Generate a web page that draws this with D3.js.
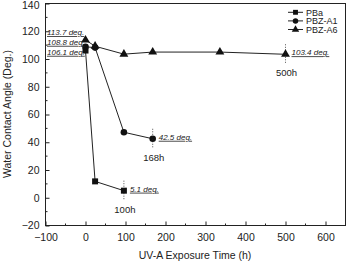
<!DOCTYPE html>
<html><head><meta charset="utf-8">
<script src="https://cdn.jsdelivr.net/npm/d3@7"></script>
<style>body{margin:0;background:#fff}svg{display:block;font-family:"Liberation Sans",Arial,sans-serif}</style>
</head><body><svg id="c" width="348" height="261"></svg>
<script>
const seriesNames = ["PBa", "PBZ-A1", "PBZ-A6"];
const pbaTime = [0, 24, 96];
const pbaAngle = [106.1, 11.8, 5.1];
const a1Time = [0, 24, 96, 168];
const a1Angle = [108.8, 108.2, 47.2, 42.5];
const a6Time = [0, 24, 96, 168, 336, 500];
const a6Angle = [113.7, 109.2, 103.5, 105.0, 105.0, 103.4];
const xTicks = [-100, 0, 100, 200, 300, 400, 500, 600];
const yTicks = [-20, 0, 20, 40, 60, 80, 100, 120, 140];
const startLabels = ["113.7 deg.", "108.8 deg.", "106.1 deg."];
const endNotes = [
  {t: 96, v: 5.1, deg: "5.1 deg.", h: "100h"},
  {t: 168, v: 42.5, deg: "42.5 deg.", h: "168h"},
  {t: 500, v: 103.4, deg: "103.4 deg.", h: "500h"}
];

const svg = d3.select("#c");
const L = 45.5, R = 345.5, T = 3.5, B = 225.5;
const x = d3.scaleLinear().domain([-100, 650]).range([L, R]);
const y = d3.scaleLinear().domain([-20, 140]).range([B, T]);
const ink = "#222";

svg.append("rect").attr("x", L).attr("y", T).attr("width", R - L).attr("height", B - T)
  .attr("fill", "none").attr("stroke", ink).attr("stroke-width", 1);

const fmt = d => d < 0 ? "\u2212" + Math.abs(d) : d;
const xAx = svg.append("g").attr("transform", `translate(0,${B})`)
  .call(d3.axisBottom(x).tickValues(xTicks).tickSize(-4).tickPadding(8).tickFormat(fmt));
const yAx = svg.append("g").attr("transform", `translate(${L},0)`)
  .call(d3.axisLeft(y).tickValues(yTicks).tickSize(-4).tickPadding(6).tickFormat(fmt));
[xAx, yAx].forEach(g => {
  g.select(".domain").remove();
  g.selectAll("line").attr("stroke", ink);
  g.selectAll("text").attr("fill", ink).attr("font-size", 10.5).attr("font-family", "Liberation Sans, Arial, sans-serif");
});
yAx.selectAll(".tick").filter(d => d === 140).select("text").attr("dy", "0.45em");
const xMinor = d3.range(-50, 650, 100);
svg.append("g").selectAll("line").data(xMinor).join("line")
  .attr("x1", d => x(d)).attr("x2", d => x(d)).attr("y1", B).attr("y2", B - 2).attr("stroke", ink);
const yMinor = d3.range(-10, 140, 20);
svg.append("g").selectAll("line").data(yMinor).join("line")
  .attr("x1", L).attr("x2", L + 2).attr("y1", d => y(d)).attr("y2", d => y(d)).attr("stroke", ink);

svg.append("text").attr("x", 195).attr("y", 259).attr("text-anchor", "middle")
  .attr("font-size", 10.5).attr("fill", ink).text("UV-A Exposure Time (h)");
svg.append("text").attr("transform", "translate(11,114) rotate(-90)").attr("text-anchor", "middle")
  .attr("font-size", 10.5).attr("fill", ink).text("Water Contact Angle (Deg.)");

const series = [
  {name: seriesNames[0], t: pbaTime, v: pbaAngle, sym: d3.symbolSquare, size: 36},
  {name: seriesNames[1], t: a1Time, v: a1Angle, sym: d3.symbolCircle, size: 34},
  {name: seriesNames[2], t: a6Time, v: a6Angle, sym: d3.symbolTriangle, size: 34}
];
const line = d3.line().x(d => x(d[0])).y(d => y(d[1]));
series.forEach(s => {
  const pts = s.t.map((t, i) => [t, s.v[i]]);
  svg.append("path").attr("d", line(pts)).attr("fill", "none").attr("stroke", ink).attr("stroke-width", 1);
  svg.append("g").selectAll("path").data(pts).join("path")
    .attr("transform", d => `translate(${x(d[0])},${y(d[1])})`)
    .attr("d", d3.symbol(s.sym, s.size)).attr("fill", "#111");
});

const startY = [32.3, 42, 52];
startLabels.forEach((s, i) => {
  svg.append("text").attr("x", 47).attr("y", startY[i] + 2.8)
    .attr("font-size", 8).attr("font-style", "italic").attr("fill", ink)
    .attr("text-decoration", "underline").text(s);
});

endNotes.forEach(n => {
  const px = x(n.t), py = y(n.v);
  svg.append("line").attr("x1", px).attr("x2", px).attr("y1", py - 10).attr("y2", py + 10)
    .attr("stroke", ink).attr("stroke-dasharray", "1,1.5").attr("stroke-width", 0.8);
  svg.append("text").attr("x", px + 6).attr("y", py + 1)
    .attr("font-size", 8).attr("font-style", "italic").attr("fill", ink)
    .attr("text-decoration", "underline").text(n.deg);
  svg.append("text").attr("x", px + 1).attr("y", py + 22).attr("text-anchor", "middle")
    .attr("font-size", 9.5).attr("fill", ink).text(n.h);
});

series.forEach((s, i) => {
  const ly = 12.3 + i * 8.6;
  svg.append("line").attr("x1", 288).attr("x2", 303).attr("y1", ly).attr("y2", ly).attr("stroke", ink);
  svg.append("path").attr("transform", `translate(295.5,${ly})`).attr("d", d3.symbol(s.sym, 24)).attr("fill", "#111");
  svg.append("text").attr("x", 306).attr("y", ly + 3.3).attr("font-size", 9).attr("fill", ink).text(s.name);
});
</script></body></html>
